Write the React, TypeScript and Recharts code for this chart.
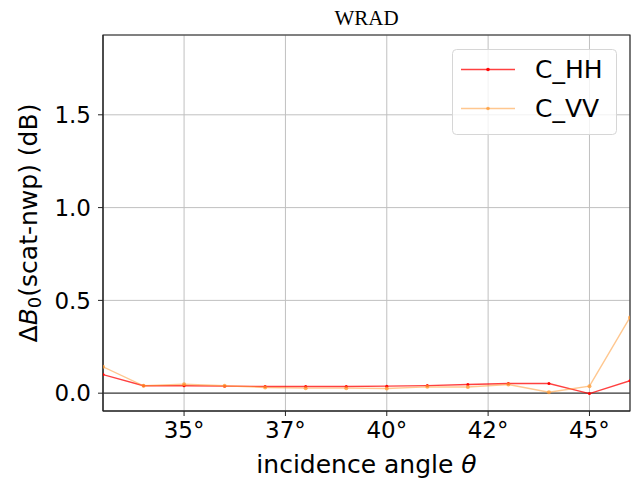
import {
  LineChart,
  Line,
  XAxis,
  YAxis,
  CartesianGrid,
  ReferenceLine,
  ReferenceArea,
  Legend,
  Customized,
} from "recharts";

const angles = [33, 34, 35, 36, 37, 38, 39, 40, 41, 42, 43, 44, 45, 46];
const hhBias = [0.1, 0.04, 0.04, 0.038, 0.036, 0.036, 0.036, 0.038, 0.041, 0.047, 0.052, 0.052, -0.002, 0.067];
const vvBias = [0.142, 0.04, 0.048, 0.04, 0.031, 0.027, 0.027, 0.025, 0.034, 0.033, 0.047, 0.005, 0.038, 0.408];

const xTicks = [35, 37.5, 40, 42.5, 45];
const xTickLabels = ["35°", "37°", "40°", "42°", "45°"];
const yTicks = [0, 0.5, 1.0, 1.5];

const FONT = "DejaVu Sans";

const data = angles.map((a, i) => ({ angle: a, C_HH: hhBias[i], C_VV: vvBias[i] }));

const Title = () => (
  <text x={366.5} y={25} textAnchor="middle" fontFamily="Liberation Serif" fontSize={21} fill="#000">
    WRAD
  </text>
);

const XLabel = (props: any) => {
  const { x, y, width } = props.viewBox;
  return (
    <text x={x + width / 2} y={y + 62} textAnchor="middle" fontFamily={FONT} fontSize={25} fill="#000">
      incidence angle <tspan fontStyle="italic">θ</tspan>
    </text>
  );
};

const YLabel = (props: any) => {
  const { y, height } = props.viewBox;
  const cx = 37;
  const cy = y + height / 2;
  return (
    <text
      x={cx}
      y={cy}
      transform={`rotate(-90 ${cx} ${cy})`}
      textAnchor="middle"
      fontFamily={FONT}
      fontSize={25}
      fill="#000"
    >
      Δ<tspan fontStyle="italic">B</tspan>
      <tspan fontSize={18} dy={4}>0</tspan>
      <tspan dy={-4}>(scat-nwp) (dB)</tspan>
    </text>
  );
};

const renderLegend = (props: any) => {
  const items = props.payload || [];
  return (
    <svg width={166} height={87} style={{ display: "block" }}>
      <rect x={0.5} y={0.5} width={164} height={85} rx={4} fill="#fff" fillOpacity={0.8} stroke="#d6d6d6" />
      {items.map((it: any, i: number) => {
        const ly = 20.5 + i * 39;
        const op = it.payload?.strokeOpacity ?? 1;
        return (
          <g key={it.value}>
            <line x1={9} x2={63} y1={ly} y2={ly} stroke={it.color} strokeOpacity={op} strokeWidth={1.4} />
            <circle cx={36} cy={ly} r={1.8} fill={it.color} fillOpacity={Math.min(1, op + 0.2)} />
            <text x={83} y={ly + 8.8} fontFamily={FONT} fontSize={25} fill="#000">
              {it.value}
            </text>
          </g>
        );
      })}
    </svg>
  );
};

export default function App() {
  return (
    <div style={{ position: "absolute", left: 0, top: 0 }}>
      <LineChart width={635} height={485} data={data} margin={{ top: 35, right: 5, bottom: 0, left: 0 }}>
        <CartesianGrid stroke="#c0c0c0" strokeWidth={1} />
        <XAxis
          dataKey="angle"
          type="number"
          domain={[33, 46]}
          ticks={xTicks}
          allowDataOverflow
          tickFormatter={(v: number) => xTickLabels[xTicks.indexOf(v)]}
          height={74}
          tickSize={5}
          tickMargin={6}
          axisLine={{ stroke: "#222" }}
          tickLine={{ stroke: "#222" }}
          tick={{ fill: "#000", fontSize: 23, fontFamily: FONT }}
          label={XLabel}
        />
        <YAxis
          type="number"
          domain={[-0.096, 1.93]}
          ticks={yTicks}
          allowDataOverflow
          tickFormatter={(v: number) => v.toFixed(1)}
          width={103}
          tickSize={5}
          tickMargin={7}
          axisLine={{ stroke: "#222" }}
          tickLine={{ stroke: "#222" }}
          tick={{ fill: "#000", fontSize: 23, fontFamily: FONT }}
          label={YLabel}
        />
        <ReferenceLine y={0} stroke="#444" strokeWidth={1.2} />
        <ReferenceArea x1={33} x2={46} y1={-0.096} y2={1.93} fill="none" stroke="#222" strokeWidth={1.1} />
        <Line
          dataKey="C_HH"
          name="C_HH"
          stroke="#ff0000"
          strokeOpacity={0.75}
          strokeWidth={1.4}
          dot={{ r: 1.5, fill: "#ff0000", stroke: "none" }}
          isAnimationActive={false}
        />
        <Line
          dataKey="C_VV"
          name="C_VV"
          stroke="#ff9933"
          strokeOpacity={0.55}
          strokeWidth={1.4}
          dot={{ r: 2, fill: "#ff9933", fillOpacity: 0.75, stroke: "none" }}
          isAnimationActive={false}
        />
        <Legend
          layout="vertical"
          align="center"
          verticalAlign="middle"
          wrapperStyle={{ left: 452, top: 49, width: 166, height: 87 }}
          content={renderLegend}
        />
        <Customized component={Title} />
      </LineChart>
    </div>
  );
}
